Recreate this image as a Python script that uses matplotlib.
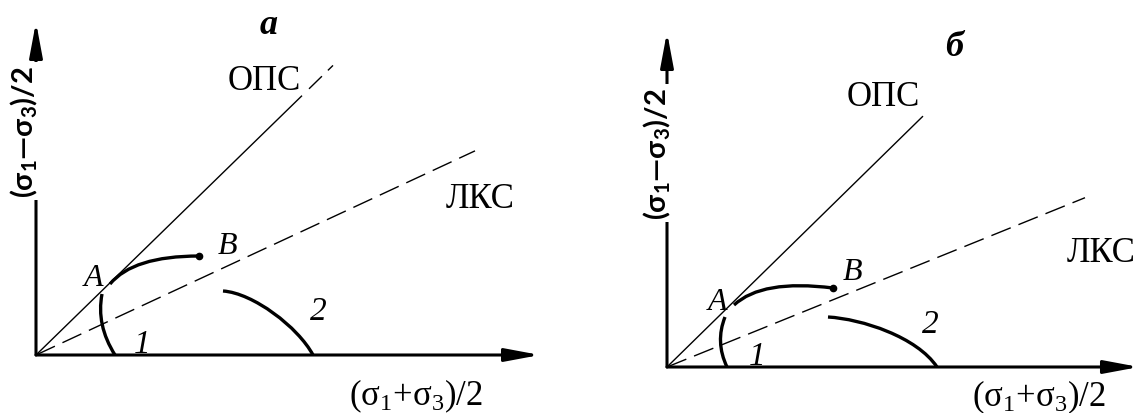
import matplotlib
matplotlib.use("Agg")
import matplotlib.pyplot as plt
from matplotlib.path import Path
from matplotlib.patches import PathPatch

plt.rcParams['font.family'] = ['Liberation Serif', 'DejaVu Serif']
plt.rcParams['mathtext.fontset'] = 'custom'
plt.rcParams['mathtext.rm'] = 'Liberation Serif'
plt.rcParams['mathtext.it'] = 'Liberation Serif:italic'
plt.rcParams['mathtext.bf'] = 'Liberation Serif:bold'
plt.rcParams['mathtext.sf'] = 'Lato:bold'

# ---------------- data (schematic units, origin at axes crossing) ----------------
# panel "а"
axis_len_a = [504, 333]                 # x-axis length, y-axis length
ops_slope_a = 0.975
ops_solid_end_a = 266
ops_dash_a = [273, 297]
lks_slope_a = 0.465
lks_end_a = 439
path_ab_a = [(74, 71), (97, 99), (163, 99)]          # quadratic Bezier A->B
curve1_a = [(66, 61), (60, 30), (79, 0)]             # quadratic Bezier
curve2_a = [(187, 64), (217, 62), (262, 28), (277, 0)]  # cubic Bezier

# panel "б"
axis_len_b = [472, 335]
ops_slope_b = 0.98
ops_end_b = 256
lks_slope_b = 0.405
lks_end_b = 418
path_ab_b = [(67, 62), (95, 88), (166, 79)]
curve1_b = [(58, 50), (48, 25), (60, 0)]
curve2_b = [(161, 50), (195, 48), (250, 30), (270, 0)]

# labels
panel_titles = ['а', 'б']
line_names = ['ОПС', 'ЛКС']
point_names = ['A', 'B']
curve_names = ['1', '2']
xlabel = r'$(\mathrm{σ}_1\mathrm{+}\mathrm{σ}_3)/2$'
ylabel = r'$\mathsf{(σ}_\mathsf{1}\mathsf{—σ}_\mathsf{3}\mathsf{)/2}$'

W, H = 1141, 414
fig = plt.figure(figsize=(W / 100, H / 100), dpi=100)


def make_ax(px0, px1, ox, oy):
    ax = fig.add_axes([px0 / W, 0, (px1 - px0) / W, 1])
    ax.set_xlim(px0 - ox, px1 - ox)
    ax.set_ylim(-(H - oy), oy)
    ax.axis('off')
    return ax


def arrow(ax, x1, y1, lw=2.2):
    ax.annotate('', xy=(x1, y1), xytext=(0, 0),
                arrowprops=dict(arrowstyle='-|>,head_length=1.5,head_width=0.28',
                                mutation_scale=14, lw=lw, color='k',
                                shrinkA=0, shrinkB=0), annotation_clip=False)


def bezier(ax, pts, lw=2.4):
    codes = [Path.MOVETO] + ([Path.CURVE3] * 2 if len(pts) == 3 else [Path.CURVE4] * 3)
    ax.add_patch(PathPatch(Path(pts, codes), fill=False, lw=lw, color='k',
                           capstyle='butt', clip_on=False))


def panel(ax, axis_len, ops_slope, ops_end, ops_dash, lks_slope, lks_end,
          ab, c1, c2, title, pos):
    arrow(ax, axis_len[0], 0)
    arrow(ax, 0, axis_len[1])
    ax.plot([0, ops_end], [0, ops_slope * ops_end], color='k', lw=1.0,
            solid_capstyle='butt')
    if ops_dash is not None:
        ax.plot(ops_dash, [ops_slope * v for v in ops_dash], color='k', lw=1.0,
                dashes=(13, 6))
    ax.plot([0, lks_end], [0, lks_slope * lks_end], color='k', lw=1.0,
            dashes=(15, 6))
    bezier(ax, ab)
    ax.plot([ab[-1][0]], [ab[-1][1]], 'o', color='k', ms=4.5)
    bezier(ax, c1)
    bezier(ax, c2)
    ax.text(*pos['title'], title, fontsize=26, style='italic', weight='bold',
            ha='center', va='center')
    ax.text(*pos['ops'], line_names[0], fontsize=25, ha='center', va='center')
    ax.text(*pos['lks'], line_names[1], fontsize=25, ha='center', va='center')
    ax.text(*pos['A'], point_names[0], fontsize=23, style='italic',
            ha='center', va='center')
    ax.text(*pos['B'], point_names[1], fontsize=23, style='italic',
            ha='center', va='center')
    ax.text(*pos['1'], curve_names[0], fontsize=24, style='italic',
            ha='center', va='center')
    ax.text(*pos['2'], curve_names[1], fontsize=24, style='italic',
            ha='center', va='center')
    ax.text(*pos['xl'], xlabel, fontsize=25, ha='center', va='center')
    ax.text(*pos['yl'], ylabel, fontsize=21, ha='center', va='center',
            rotation=90,
            bbox=dict(boxstyle='square,pad=0.1', fc='white', ec='none'))


ax_a = make_ax(0, 570, 36, 356)
panel(ax_a, axis_len_a, ops_slope_a, ops_solid_end_a, ops_dash_a,
      lks_slope_a, lks_end_a, path_ab_a, curve1_a, curve2_a, panel_titles[0],
      dict(title=(233, 331), ops=(228, 275), lks=(444, 156), A=(58, 78),
           B=(191, 109), **{'1': (106, 11), '2': (282, 44)},
           xl=(380, -40), yl=(-12, 224)))

ax_b = make_ax(570, 1141, 667, 368)
panel(ax_b, axis_len_b, ops_slope_b, ops_end_b, None,
      lks_slope_b, lks_end_b, path_ab_b, curve1_b, curve2_b, panel_titles[1],
      dict(title=(287, 321), ops=(216, 270), lks=(434, 115), A=(50, 65),
           B=(185, 96), **{'1': (90, 11), '2': (263, 43)},
           xl=(372, -29), yl=(-10, 214)))

fig.savefig('out.png', dpi=100, facecolor='white')
